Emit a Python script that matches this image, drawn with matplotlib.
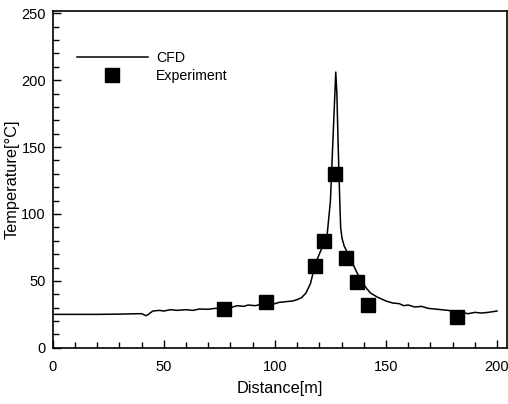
import numpy as np
import matplotlib.pyplot as plt
from matplotlib.ticker import MultipleLocator

plt.rcParams['font.family'] = ['Liberation Sans', 'DejaVu Sans']

# CFD curve
cfd_x = [0, 10, 20, 30, 38, 40, 42, 43, 45, 48, 50, 53, 56, 60, 63, 66, 70, 73, 76,
         80, 83, 86, 88, 91, 94, 97, 100, 102, 105, 108, 110, 112, 114, 116, 117.5,
         119, 120.5, 122, 123.5, 125, 126, 127, 127.4, 127.9, 128.5, 129.2, 129.6,
         130.2, 131.2, 133, 135, 137, 139, 141, 143, 146, 148, 150, 153, 156, 158, 160,
         163, 166, 169, 172, 175, 178, 181, 184, 187, 190, 193, 196, 200]
cfd_t = [25, 25, 25, 25.2, 25.5, 25.5, 24, 25, 27.5, 28, 27.5, 28.5, 28, 28.5, 28, 29,
         28.8, 29.5, 29.2, 30, 31.5, 31, 32, 31.5, 32.5, 33.5, 33, 34, 34.5, 35, 36,
         37.5, 41, 48, 58, 66, 72, 78, 84, 110, 150, 190, 206, 190, 150, 110, 90, 82,
         76, 70, 63, 56, 50, 45, 41, 38, 36.5, 35, 33.5, 33, 31.5, 32, 30.5, 31, 29.5,
         29, 28.5, 28, 27, 26.5, 25.5, 26.5, 26, 26.5, 27.5]

# experiment points
exp_x = [77, 96, 118, 122, 127, 132, 137, 142, 182]
exp_t = [29, 34, 61, 80, 130, 67, 49, 32, 23]

fig = plt.figure(figsize=(5.08, 4.04), dpi=100)
ax = fig.add_axes([0.104, 0.139, 0.894, 0.834])

ax.plot(cfd_x, cfd_t, color='black', lw=1.1, label='CFD')
ax.plot(exp_x, exp_t, ls='none', marker='s', ms=9.5, color='black', label='Experiment')

ax.set_xlim(0, 204.5)
ax.set_ylim(0, 251.7)
ax.xaxis.set_major_locator(MultipleLocator(50))
ax.xaxis.set_minor_locator(MultipleLocator(10))
ax.yaxis.set_major_locator(MultipleLocator(50))
ax.yaxis.set_minor_locator(MultipleLocator(10))
ax.set_xticks([0, 50, 100, 150, 200])
ax.tick_params(which='both', direction='in', top=False, right=False, labelsize=10.5)
ax.tick_params(axis='x', which='major', length=6, width=1, pad=9)
ax.tick_params(axis='y', which='major', length=6, width=1, pad=5)
ax.tick_params(which='minor', length=4, width=1)
for s in ax.spines.values():
    s.set_linewidth(1.2)

ax.set_xlabel('Distance[m]', fontsize=11.8, labelpad=5)
ax.set_ylabel('Temperature[°C]', fontsize=11.8, labelpad=1)

ax.legend(loc='upper left', bbox_to_anchor=(0.025, 0.92), frameon=False, fontsize=10.2,
          handlelength=5.0, handletextpad=0.6, labelspacing=0.32, numpoints=1)

fig.savefig('out.png', dpi=100)
